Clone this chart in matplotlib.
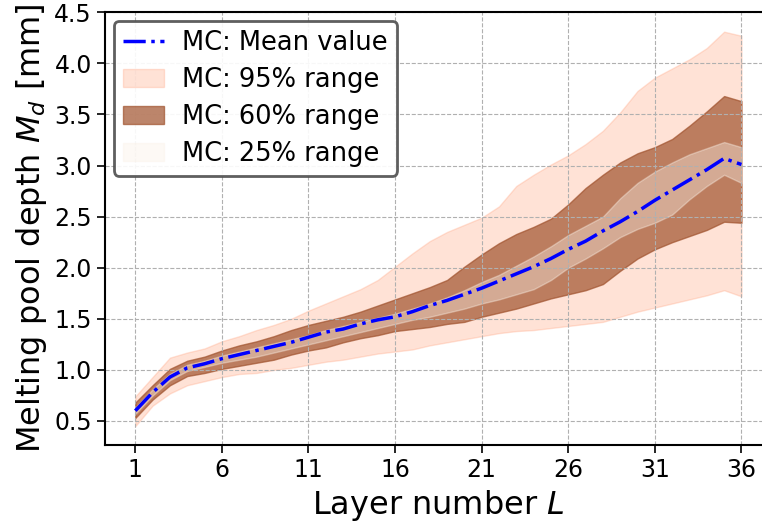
import numpy as np
import matplotlib.pyplot as plt

layers = np.arange(1, 37)

mean_val = [0.60, 0.78, 0.93, 1.02, 1.06, 1.11, 1.15, 1.19, 1.23, 1.27, 1.32, 1.37,
            1.40, 1.45, 1.49, 1.52, 1.57, 1.63, 1.68, 1.74, 1.80, 1.87, 1.94, 2.01,
            2.09, 2.18, 2.26, 2.36, 2.45, 2.55, 2.66, 2.76, 2.86, 2.96, 3.07, 3.01]

r95_hi = [0.74, 0.93, 1.12, 1.17, 1.21, 1.28, 1.33, 1.39, 1.44, 1.50, 1.58, 1.65,
          1.72, 1.79, 1.88, 2.01, 2.14, 2.26, 2.35, 2.42, 2.49, 2.60, 2.80, 2.91,
          3.01, 3.10, 3.21, 3.34, 3.52, 3.73, 3.86, 3.95, 4.04, 4.15, 4.31, 4.27]
r95_lo = [0.45, 0.65, 0.77, 0.85, 0.89, 0.93, 0.96, 0.97, 1.00, 1.02, 1.05, 1.08,
          1.10, 1.13, 1.16, 1.18, 1.20, 1.24, 1.27, 1.30, 1.33, 1.36, 1.38, 1.39,
          1.41, 1.43, 1.45, 1.47, 1.52, 1.57, 1.61, 1.65, 1.69, 1.73, 1.78, 1.72]

r60_hi = [0.68, 0.85, 1.01, 1.09, 1.13, 1.19, 1.24, 1.28, 1.33, 1.39, 1.44, 1.48,
          1.52, 1.57, 1.63, 1.69, 1.75, 1.81, 1.88, 2.01, 2.13, 2.24, 2.33, 2.40,
          2.48, 2.62, 2.78, 2.91, 3.03, 3.12, 3.18, 3.26, 3.39, 3.53, 3.68, 3.63]
r60_lo = [0.53, 0.71, 0.85, 0.94, 0.97, 1.01, 1.04, 1.07, 1.10, 1.15, 1.19, 1.22,
          1.27, 1.31, 1.34, 1.38, 1.40, 1.42, 1.45, 1.47, 1.52, 1.56, 1.60, 1.65,
          1.70, 1.74, 1.78, 1.84, 1.97, 2.09, 2.18, 2.25, 2.31, 2.37, 2.45, 2.44]

r25_hi = [0.63, 0.81, 0.96, 1.05, 1.09, 1.14, 1.18, 1.22, 1.26, 1.30, 1.34, 1.39,
          1.43, 1.47, 1.51, 1.55, 1.60, 1.65, 1.71, 1.78, 1.86, 1.93, 2.02, 2.11,
          2.21, 2.32, 2.41, 2.50, 2.68, 2.83, 2.94, 3.03, 3.11, 3.17, 3.23, 3.18]
r25_lo = [0.57, 0.75, 0.90, 0.99, 1.03, 1.07, 1.10, 1.13, 1.17, 1.21, 1.25, 1.29,
          1.33, 1.37, 1.41, 1.45, 1.49, 1.52, 1.56, 1.60, 1.65, 1.69, 1.74, 1.79,
          1.88, 2.00, 2.09, 2.19, 2.30, 2.38, 2.44, 2.52, 2.67, 2.80, 2.91, 2.83]

fig = plt.figure(figsize=(7.62, 5.22), dpi=100)
ax = fig.add_axes([0.1378, 0.1475, 0.875, 0.829])

h95 = ax.fill_between(layers, r95_lo, r95_hi, color='lightsalmon', alpha=0.3,
                      label='MC: 95% range')
h60 = ax.fill_between(layers, r60_lo, r60_hi, color='sienna', alpha=0.7,
                      label='MC: 60% range')
h25 = ax.fill_between(layers, r25_lo, r25_hi, color='linen', alpha=0.4,
                      label='MC: 25% range')
hm, = ax.plot(layers, mean_val, 'b-.', lw=2.5, label='MC: Mean value')

ax.set_xlim(-0.75, 37.75)
ax.set_ylim(0.265, 4.5)
ax.set_xticks(np.arange(1, 37, 5))
ax.set_yticks(np.arange(0.5, 4.51, 0.5))
ax.tick_params(labelsize=17, length=6, width=1.2)
for s in ax.spines.values():
    s.set_linewidth(1.5)
ax.grid(True, ls='--', color='#b0b0b0', lw=0.8)

ax.set_xlabel('Layer number $L$', fontsize=23)
ax.set_ylabel('Melting pool depth $M_d$ [mm]', fontsize=23)

leg = ax.legend(handles=[hm, h95, h60, h25], loc='upper left', fontsize=18.5,
                framealpha=0.9, handlelength=1.6, handletextpad=0.7,
                labelspacing=0.42, borderpad=0.35, borderaxespad=0.35)
leg.get_frame().set_edgecolor('#4d4d4d')
leg.get_frame().set_linewidth(2)

fig.savefig('out.png', dpi=100)
